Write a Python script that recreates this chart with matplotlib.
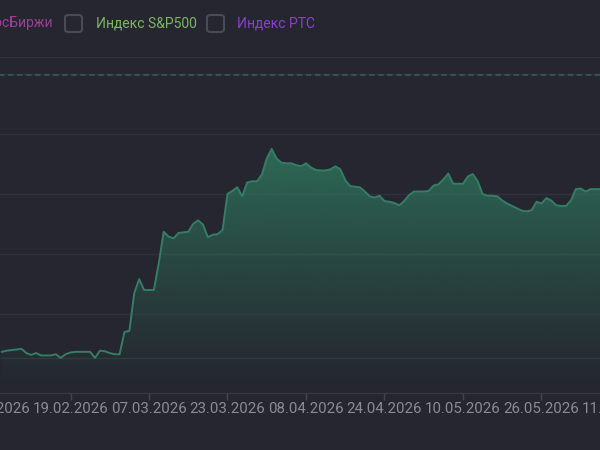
import matplotlib
matplotlib.use('Agg')
import matplotlib.pyplot as plt
import matplotlib.dates as mdates
from matplotlib.patches import FancyBboxPatch
import numpy as np
import pandas as pd

# данные
dates = pd.date_range('2026-02-05', '2026-06-07', freq='D')
values = [3.7, 3.9, 4.0, 4.1, 4.2, 3.5, 3.2, 3.5, 3.1, 3.1, 3.1, 3.3, 2.7, 3.3,
          3.6, 3.7, 3.7, 3.7, 3.7, 2.7, 3.9, 3.8, 3.5, 3.3, 3.3, 7.0, 7.2, 13.5,
          15.8, 14.0, 14.0, 14.0, 18.5, 23.7, 22.9, 22.6, 23.5, 23.6, 23.7, 25.0,
          25.6, 24.9, 22.8, 23.2, 23.3, 24.0, 30.0, 30.5, 31.1, 29.6, 31.9, 32.1,
          32.1, 33.2, 35.9, 37.5, 35.9, 35.2, 35.1, 35.1, 34.8, 34.6, 35.1, 34.4,
          34.0, 33.9, 33.9, 34.1, 34.6, 34.1, 32.3, 31.3, 31.2, 31.1, 30.4, 29.6,
          29.4, 29.7, 28.8, 28.7, 28.5, 28.1, 28.8, 29.8, 30.4, 30.4, 30.4, 30.5,
          31.4, 31.6, 32.4, 33.4, 31.7, 31.7, 31.7, 32.9, 33.3, 32.1, 30.0, 29.7,
          29.7, 29.6, 28.9, 28.4, 28.0, 27.6, 27.2, 27.1, 27.3, 28.7, 28.4, 29.3,
          28.9, 28.1, 28.0, 28.0, 28.9, 30.8, 30.9, 30.4, 30.8, 30.8, 30.8]
tick_labels = ['03.02.2026', '19.02.2026', '07.03.2026', '23.03.2026', '08.04.2026',
               '24.04.2026', '10.05.2026', '26.05.2026', '11.06.2026']
grid_levels = [10, 20, 30, 40, 50]
base_level = 2.7
target_level = 49.8
legend_names = ['Индекс МосБиржи', 'Индекс S&P500', 'Индекс РТС']
legend_colors = ['#9b3f98', '#7db75e', '#8b3fd4']

bg = '#25262f'
plt.rcParams['font.family'] = ['Roboto', 'DejaVu Sans']

fig = plt.figure(figsize=(6, 4.5), dpi=100, facecolor=bg)
# ось шире картинки: скриншот обрезан слева и справа
ax = fig.add_axes([-0.1, 57.3 / 450, 1.2, 335.7 / 450])
ax.set_facecolor(bg)

x0 = mdates.date2num(pd.Timestamp('2026-02-19'))
px_day = 4.906
ax.set_xlim(x0 + (-60 - 70.5) / px_day, x0 + (660 - 70.5) / px_day)
ymin, ymax = -3.1, 52.8
ax.set_ylim(ymin, ymax)

for g in grid_levels:
    ax.axhline(g, color='#30313b', lw=1, zorder=1)
ax.axhline(base_level, color='#34353f', lw=1, zorder=1)
ax.axhline(ymax - 0.05, color='#34353f', lw=1.2, zorder=1)
ax.axhline(target_level, color='#2e5a5c', lw=1.3, ls=(0, (3, 2)), zorder=2)

# градиентная заливка под линией
xd = mdates.date2num(dates)
poly = ax.fill_between(xd, values, ymin, color='none', lw=0)
grad = np.zeros((256, 1, 4))
grad[:, 0, :3] = matplotlib.colors.to_rgb('#2f7a5f')
grad[:, 0, 3] = np.linspace(0.88, 0.0, 256) ** 1.15
xl = ax.get_xlim()
img = ax.imshow(grad, extent=[xl[0], xl[1], ymin, 40], aspect='auto',
                origin='upper', zorder=3)
img.set_clip_path(poly.get_paths()[0], transform=ax.transData)
ax.set_xlim(xl)
ax.set_ylim(ymin, ymax)
ax.plot(xd, values, color='#357d67', lw=1.4, zorder=4, solid_joinstyle='round')

ticks = [mdates.date2num(pd.to_datetime(t, format='%d.%m.%Y')) for t in tick_labels]
ax.set_xticks(ticks)
ax.set_xticklabels(tick_labels)
ax.tick_params(axis='x', colors='#45464f', length=5, width=1, pad=2,
               labelcolor='#8a8c95', labelsize=10.8)
ax.set_yticks([])
for s in ['left', 'right', 'top']:
    ax.spines[s].set_visible(False)
ax.spines['bottom'].set_color('#3a3b45')

# легенда сверху
ty = 1 - 23 / 450
fig.text(53 / 600, ty, legend_names[0], color=legend_colors[0], fontsize=10,
         ha='right', va='center')
fig.text(96 / 600, ty, legend_names[1], color=legend_colors[1], fontsize=10,
         ha='left', va='center')
fig.text(237 / 600, ty, legend_names[2], color=legend_colors[2], fontsize=10,
         ha='left', va='center')
for bx in [65, 207]:
    box = FancyBboxPatch((bx / 600, 1 - 32 / 450), 17 / 600, 17 / 450,
                         boxstyle='round,pad=0,rounding_size=0.006',
                         transform=fig.transFigure, fc='none', ec='#4a4b56', lw=1.5)
    fig.patches.append(box)

fig.savefig('out.png', dpi=100, facecolor=bg)
